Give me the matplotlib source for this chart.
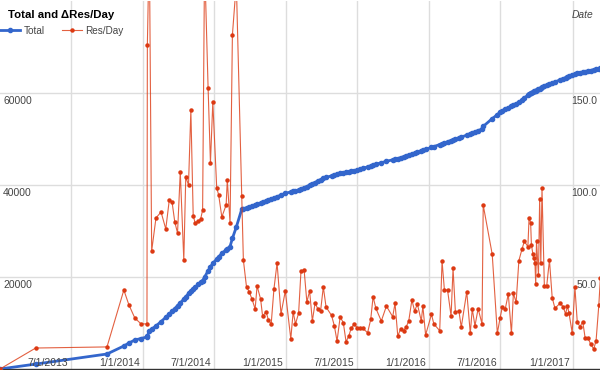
import numpy as np
import matplotlib
matplotlib.use('Agg')
import matplotlib.pyplot as plt
import matplotlib.dates as mdates
import matplotlib.transforms as mtrans
from matplotlib.lines import Line2D

plt.rcParams['font.family'] = ['Liberation Sans', 'DejaVu Sans']

# ---------------- data ----------------
start_date = '2013-01-01'
end_offset_days = 1531
day_offsets = [0, 91, 273, 316, 329, 344, 360, 375, 376, 381,
               387, 398, 411, 423, 432, 439, 446, 453, 460, 469,
               474, 481, 487, 493, 498, 506, 512, 517, 522, 531,
               537, 543, 553, 558, 566, 577, 580, 587, 593, 603,
               617, 621, 629, 636, 643, 651, 656, 665, 670, 679,
               685, 692, 699, 707, 717, 728, 742, 748, 754, 762,
               768, 776, 783, 790, 797, 804, 811, 818, 825, 832,
               846, 853, 860, 868, 876, 883, 890, 896, 904, 912,
               918, 925, 938, 946, 952, 959, 973, 986, 1002, 1008,
               1015, 1022, 1030, 1036, 1043, 1051, 1058, 1065, 1075, 1079,
               1086, 1101, 1107, 1122, 1128, 1134, 1142, 1151, 1156, 1162,
               1171, 1177, 1191, 1200, 1205, 1212, 1220, 1230, 1233, 1256,
               1269, 1276, 1282, 1289, 1297, 1305, 1310, 1317, 1324, 1332,
               1338, 1347, 1350, 1354, 1356, 1360, 1362, 1365, 1367, 1369,
               1374, 1377, 1380, 1383, 1389, 1395, 1402, 1409, 1416, 1429,
               1437, 1443, 1448, 1452, 1460, 1467, 1473, 1480, 1487, 1493,
               1500, 1507, 1515, 1521, 1528, 1532]

total = [0, 1070, 3260, 5000, 5650, 6300, 6630, 6960, 7130, 8290,
         8670, 9360, 10300, 11240, 11940, 12530, 13120, 13780, 14350, 15190,
         15680, 16420, 16940, 17390, 17780, 18370, 18840, 19230, 19960, 21360,
         22220, 22950, 23920, 24440, 25150, 25890, 26130, 26630, 28390, 30860,
         34780, 34880, 35030, 35180, 35380, 35640, 35800, 36080, 36240, 36510,
         36730, 36950, 37170, 37450, 37810, 38200, 38500, 38610, 38720, 38930,
         39130, 39390, 39660, 39960, 40250, 40540, 40870, 41170, 41460, 41640,
         41990, 42190, 42370, 42560, 42680, 42790, 42900, 43000, 43120, 43260,
         43420, 43600, 43940, 44140, 44320, 44510, 44850, 45140, 45470, 45610,
         45760, 45920, 46140, 46320, 46520, 46730, 46930, 47120, 47420, 47510,
         47740, 48170, 48340, 48800, 48950, 49160, 49390, 49640, 49790, 49990,
         50240, 50420, 50830, 51110, 51290, 51560, 51840, 52170, 52740, 54430,
         55280, 55860, 56160, 56450, 56780, 57160, 57380, 57670, 57970, 58440,
         58940, 59540, 59720, 59980, 60090, 60230, 60340, 60450, 60530, 60640,
         60860, 60970, 61110, 61220, 61450, 61690, 61920, 62150, 62390, 62860,
         63120, 63330, 63500, 63610, 63900, 64130, 64310, 64420, 64540, 64650,
         64760, 64890, 65040, 65180, 65320, 65400]

res_per_day = [0, 11.4, 12.0, 42.9, 34.8, 27.7, 24.5, 24.5, 176.1, 232.1,
               64.1, 82.1, 85.3, 76.1, 91.9, 90.8, 79.9, 73.9, 107.1, 59.2,
               104.4, 100.0, 140.8, 83.2, 79.4, 80.4, 81.5, 86.4, 221.7, 152.7,
               112.0, 145.1, 98.4, 94.6, 82.6, 89.1, 102.7, 79.4, 181.5, 209.8,
               94.0, 59.2, 44.6, 41.9, 38.0, 32.6, 45.1, 38.0, 28.8, 31.0,
               26.6, 24.5, 43.5, 57.6, 29.9, 42.4, 16.3, 31.0, 24.5, 30.4,
               53.3, 53.8, 36.4, 42.4, 26.1, 35.9, 32.6, 31.5, 44.6, 33.7,
               29.1, 23.6, 15.2, 28.3, 25.2, 14.8, 17.9, 22.1, 24.5, 22.1,
               22.3, 22.3, 19.7, 27.0, 39.3, 33.0, 26.1, 34.2, 28.4, 35.7,
               17.9, 21.6, 20.8, 22.7, 26.1, 37.5, 31.5, 35.3, 26.1, 34.2,
               18.5, 29.7, 24.5, 20.8, 58.7, 42.9, 42.9, 28.8, 54.7, 31.1,
               31.5, 22.7, 42.0, 19.4, 32.6, 23.5, 32.8, 24.5, 89.1, 62.3,
               19.4, 27.7, 33.9, 32.4, 40.8, 19.4, 41.1, 36.3, 58.9, 65.2,
               69.4, 66.5, 82.2, 79.5, 67.4, 62.3, 60.5, 57.8, 46.0, 69.6,
               50.9, 92.2, 57.4, 98.2, 45.3, 45.1, 59.2, 38.8, 33.0, 35.7,
               33.9, 29.9, 34.2, 30.3, 19.7, 44.4, 25.5, 23.0, 25.7, 17.0,
               17.0, 13.6, 10.9, 15.4, 34.8, 49.5]

x_tick_dates = ['2013-07-01', '2014-01-01', '2014-07-01', '2015-01-01',
                '2015-07-01', '2016-01-01', '2016-07-01', '2017-01-01']
x_tick_labels = ['7/1/2013', '1/1/2014', '7/1/2014', '1/1/2015',
                 '7/1/2015', '1/1/2016', '7/1/2016', '1/1/2017']
left_ticks = [20000, 40000, 60000]
left_labels = ['20000', '40000', '60000']
right_ticks = [50, 100, 150]
right_labels = ['50.0', '100.0', '150.0']
left_max = 80000
right_max = 200

title_text = 'Total and \u0394Res/Day'
series_names = ['Total', 'Res/Day']
axis_title = 'Date'

# ---------------- drawing ----------------
BLUE = '#3366cc'
RED = '#dc3912'
TXT = '#444444'
GRID = '#dddddd'

W, H = 600, 370
fig = plt.figure(figsize=(W / 100, H / 100), dpi=100)
ax = fig.add_axes([0, 1.0 / H, 1, 368.0 / H])
ax2 = ax.twinx()

base = np.datetime64(start_date)
dates = base + np.array(day_offsets).astype('timedelta64[D]')
x0 = mdates.date2num(base)
x1 = mdates.date2num(base + np.timedelta64(end_offset_days, 'D'))

ax.plot(dates, total, color=BLUE, lw=2.0, marker='o', ms=3.0,
        mec=BLUE, mfc=BLUE, zorder=3, clip_on=True)
ax2.plot(dates, res_per_day, color=RED, lw=0.8, alpha=0.8, zorder=3)
ax2.plot(dates, res_per_day, color=RED, lw=0, marker='o', ms=2.2,
         mec=RED, mfc=RED, zorder=4)

for a, top in ((ax, left_max), (ax2, right_max)):
    a.set_xlim(x0, x1)
    a.set_ylim(0, top)
    for s in a.spines.values():
        s.set_visible(False)
    a.tick_params(length=0, labelleft=False, labelright=False,
                  labelbottom=False, labeltop=False)

tick_nums = [mdates.datestr2num(d) for d in x_tick_dates]
ax.set_xticks(tick_nums)
ax.set_yticks(left_ticks)
ax.grid(True, color=GRID, lw=1.0, zorder=0)
ax.set_axisbelow(True)
ax2.set_yticks(right_ticks)
ax2.grid(False)
ax.spines['bottom'].set_visible(True)
ax.spines['bottom'].set_color('#333333')
ax.spines['bottom'].set_linewidth(1.0)

fs = 7.5
# x labels (right-aligned just left of gridline)
bx = mtrans.blended_transform_factory(ax.transData, ax.transAxes)
tx = mtrans.offset_copy(bx, fig=fig, x=-3, y=3.5, units='dots')
for t, lab in zip(tick_nums, x_tick_labels):
    ax.text(t, 0, lab, transform=tx, ha='right', va='baseline',
            fontsize=fs, color=TXT)

# left y labels
byl = mtrans.blended_transform_factory(ax.transAxes, ax.transData)
tyl = mtrans.offset_copy(byl, fig=fig, x=3, y=-11, units='dots')
for v, lab in zip(left_ticks, left_labels):
    ax.text(0, v, lab, transform=tyl, ha='left', va='baseline',
            fontsize=fs, color=TXT)

# right y labels
byr = mtrans.blended_transform_factory(ax2.transAxes, ax2.transData)
tyr = mtrans.offset_copy(byr, fig=fig, x=-3, y=-11, units='dots')
for v, lab in zip(right_ticks, right_labels):
    ax2.text(1, v, lab, transform=tyr, ha='right', va='baseline',
             fontsize=fs, color=TXT)

# title, axis title, legend
fig.text(8 / W, 1 - 18 / H, title_text, fontsize=8.2, fontweight='bold',
         color='#000000', ha='left', va='baseline')
fig.text(593 / W, 1 - 17.5 / H, axis_title, fontsize=7.4, style='italic',
         color=TXT, ha='right', va='baseline')

ly = 1 - 29.5 / H
fig.add_artist(Line2D([0 / W, 20 / W], [ly, ly], color=BLUE, lw=2.0,
                      transform=fig.transFigure))
fig.add_artist(Line2D([10 / W], [ly], color=BLUE, marker='o', ms=3.0,
                      transform=fig.transFigure))
fig.text(24 / W, 1 - 33.5 / H, series_names[0], fontsize=7.2, color=TXT,
         ha='left', va='baseline')
fig.add_artist(Line2D([62 / W, 82 / W], [ly, ly], color=RED, lw=0.8,
                      alpha=0.8, transform=fig.transFigure))
fig.add_artist(Line2D([72 / W], [ly], color=RED, marker='o', ms=2.2,
                      transform=fig.transFigure))
fig.text(85 / W, 1 - 33.5 / H, series_names[1], fontsize=7.2, color=TXT,
         ha='left', va='baseline')

fig.savefig('out.png', dpi=100)
